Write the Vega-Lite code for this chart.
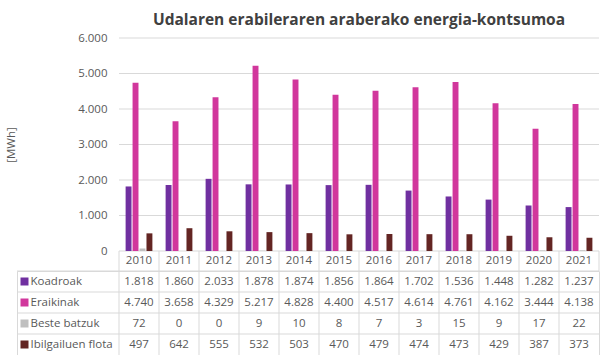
{
  "$schema": "https://vega.github.io/schema/vega-lite/v6.json",
  "padding": {"left": 5, "top": 12, "right": 3, "bottom": 0},
  "autosize": {"type": "pad"},
  "config": {
    "locale": {"number": {"decimal": ",", "thousands": ".", "grouping": [3], "currency": ["", " €"]}},
    "view": {"stroke": null},
    "font": "Open Sans",
    "axis": {"labelFont": "Open Sans", "labelFontSize": 11.5, "labelColor": "#595959", "titleFont": "Open Sans", "titleFontWeight": "normal", "titleColor": "#595959", "titleFontSize": 11.5}
  },
  "datasets": {
    "energy": [
      {"year": "2010", "series": "Koadroak", "value": 1818},
      {"year": "2011", "series": "Koadroak", "value": 1860},
      {"year": "2012", "series": "Koadroak", "value": 2033},
      {"year": "2013", "series": "Koadroak", "value": 1878},
      {"year": "2014", "series": "Koadroak", "value": 1874},
      {"year": "2015", "series": "Koadroak", "value": 1856},
      {"year": "2016", "series": "Koadroak", "value": 1864},
      {"year": "2017", "series": "Koadroak", "value": 1702},
      {"year": "2018", "series": "Koadroak", "value": 1536},
      {"year": "2019", "series": "Koadroak", "value": 1448},
      {"year": "2020", "series": "Koadroak", "value": 1282},
      {"year": "2021", "series": "Koadroak", "value": 1237},
      {"year": "2010", "series": "Eraikinak", "value": 4740},
      {"year": "2011", "series": "Eraikinak", "value": 3658},
      {"year": "2012", "series": "Eraikinak", "value": 4329},
      {"year": "2013", "series": "Eraikinak", "value": 5217},
      {"year": "2014", "series": "Eraikinak", "value": 4828},
      {"year": "2015", "series": "Eraikinak", "value": 4400},
      {"year": "2016", "series": "Eraikinak", "value": 4517},
      {"year": "2017", "series": "Eraikinak", "value": 4614},
      {"year": "2018", "series": "Eraikinak", "value": 4761},
      {"year": "2019", "series": "Eraikinak", "value": 4162},
      {"year": "2020", "series": "Eraikinak", "value": 3444},
      {"year": "2021", "series": "Eraikinak", "value": 4138},
      {"year": "2010", "series": "Beste batzuk", "value": 72},
      {"year": "2011", "series": "Beste batzuk", "value": 0},
      {"year": "2012", "series": "Beste batzuk", "value": 0},
      {"year": "2013", "series": "Beste batzuk", "value": 9},
      {"year": "2014", "series": "Beste batzuk", "value": 10},
      {"year": "2015", "series": "Beste batzuk", "value": 8},
      {"year": "2016", "series": "Beste batzuk", "value": 7},
      {"year": "2017", "series": "Beste batzuk", "value": 3},
      {"year": "2018", "series": "Beste batzuk", "value": 15},
      {"year": "2019", "series": "Beste batzuk", "value": 9},
      {"year": "2020", "series": "Beste batzuk", "value": 17},
      {"year": "2021", "series": "Beste batzuk", "value": 22},
      {"year": "2010", "series": "Ibilgailuen flota", "value": 497},
      {"year": "2011", "series": "Ibilgailuen flota", "value": 642},
      {"year": "2012", "series": "Ibilgailuen flota", "value": 555},
      {"year": "2013", "series": "Ibilgailuen flota", "value": 532},
      {"year": "2014", "series": "Ibilgailuen flota", "value": 503},
      {"year": "2015", "series": "Ibilgailuen flota", "value": 470},
      {"year": "2016", "series": "Ibilgailuen flota", "value": 479},
      {"year": "2017", "series": "Ibilgailuen flota", "value": 474},
      {"year": "2018", "series": "Ibilgailuen flota", "value": 473},
      {"year": "2019", "series": "Ibilgailuen flota", "value": 429},
      {"year": "2020", "series": "Ibilgailuen flota", "value": 387},
      {"year": "2021", "series": "Ibilgailuen flota", "value": 373}
    ],
    "series": [
      {"series": "Koadroak"},
      {"series": "Eraikinak"},
      {"series": "Beste batzuk"},
      {"series": "Ibilgailuen flota"}
    ],
    "years": [
      {"year": "2010"}, {"year": "2011"}, {"year": "2012"}, {"year": "2013"}, {"year": "2014"}, {"year": "2015"},
      {"year": "2016"}, {"year": "2017"}, {"year": "2018"}, {"year": "2019"}, {"year": "2020"}, {"year": "2021"}
    ],
    "gridValues": [
      {"v": 0}, {"v": 1000}, {"v": 2000}, {"v": 3000}, {"v": 4000}, {"v": 5000}, {"v": 6000}
    ]
  },
  "spacing": 0,
  "bounds": "flush",
  "resolve": {"scale": {"x": "independent", "y": "independent", "color": "independent"}},
  "vconcat": [
    {
      "width": 582,
      "height": 213,
      "title": {"text": "Udalaren erabileraren araberako energia-kontsumoa", "font": "Open Sans", "fontSize": 15.5, "fontWeight": "bold", "color": "#404040", "anchor": "middle", "dx": 51, "offset": 4},
      "layer": [
        {
          "data": {"name": "gridValues"},
          "mark": {"type": "rule", "color": "#d9d9d9", "strokeWidth": 1},
          "encoding": {
            "x": {"datum": "2010", "type": "ordinal", "bandPosition": 0,
                  "scale": {"type": "band", "domain": ["_", "2010","2011","2012","2013","2014","2015","2016","2017","2018","2019","2020","2021"], "paddingInner": 0, "paddingOuter": 0.775, "align": 1},
                  "axis": null},
            "x2": {"value": "width"},
            "y": {"field": "v", "type": "quantitative", "scale": {"domain": [0, 6000]},
                  "axis": {"title": "[MWh]", "offset": -102, "grid": false, "ticks": false, "domain": false, "values": [0,1000,2000,3000,4000,5000,6000], "format": ",d", "labelPadding": 12, "titlePadding": 61}}
          }
        },
        {
          "data": {"name": "energy"},
          "mark": {"type": "bar"},
          "encoding": {
            "x": {"field": "year", "type": "ordinal",
                  "scale": {"type": "band", "domain": ["_", "2010","2011","2012","2013","2014","2015","2016","2017","2018","2019","2020","2021"], "paddingInner": 0, "paddingOuter": 0.775, "align": 1},
                  "axis": null},
            "xOffset": {"field": "series", "type": "nominal", "sort": ["Koadroak", "Eraikinak", "Beste batzuk", "Ibilgailuen flota"], "scale": {"domain": ["Koadroak", "Eraikinak", "Beste batzuk", "Ibilgailuen flota"], "paddingInner": 0.15, "paddingOuter": 0.95}},
            "y": {"field": "value", "type": "quantitative", "scale": {"domain": [0, 6000]},
                  "axis": {"title": "[MWh]", "offset": -102, "grid": false, "ticks": false, "domain": false, "values": [0,1000,2000,3000,4000,5000,6000], "format": ",d", "labelPadding": 12, "titlePadding": 61}},
            "color": {"field": "series", "type": "nominal", "scale": {"domain": ["Koadroak", "Eraikinak", "Beste batzuk", "Ibilgailuen flota"], "range": ["#7030a0", "#d1379c", "#bfbfbf", "#632523"]}, "legend": null}
          }
        }
      ]
    },
    {
      "width": 582,
      "height": 20,
      "layer": [
        {
          "data": {"name": "years"},
          "mark": {"type": "rule", "color": "#d9d9d9", "strokeWidth": 1},
          "encoding": {
            "x": {"field": "year", "type": "ordinal", "bandPosition": 0,
                  "scale": {"type": "band", "domain": ["_", "2010","2011","2012","2013","2014","2015","2016","2017","2018","2019","2020","2021"], "paddingInner": 0, "paddingOuter": 0.775, "align": 1},
                  "axis": null}
          }
        },
        {
          "data": {"values": [{"edge": "right"}]},
          "mark": {"type": "rule", "color": "#d9d9d9", "strokeWidth": 1},
          "encoding": {
            "x": {"datum": "2021", "type": "ordinal", "bandPosition": 1,
                  "scale": {"type": "band", "domain": ["_", "2010","2011","2012","2013","2014","2015","2016","2017","2018","2019","2020","2021"], "paddingInner": 0, "paddingOuter": 0.775, "align": 1},
                  "axis": null}
          }
        },
        {
          "data": {"name": "years"},
          "mark": {"type": "text", "font": "Open Sans", "fontSize": 11.5, "color": "#595959", "baseline": "middle"},
          "encoding": {
            "x": {"field": "year", "type": "ordinal",
                  "scale": {"type": "band", "domain": ["_", "2010","2011","2012","2013","2014","2015","2016","2017","2018","2019","2020","2021"], "paddingInner": 0, "paddingOuter": 0.775, "align": 1},
                  "axis": null},
            "text": {"field": "year", "type": "nominal"}
          }
        }
      ]
    },
    {
      "width": 582,
      "height": 84,
      "view": {"stroke": "#d9d9d9"},
      "layer": [
        {
          "data": {"name": "series"},
          "mark": {"type": "rule", "color": "#d9d9d9", "strokeWidth": 1},
          "encoding": {
            "y": {"field": "series", "type": "nominal", "bandPosition": 0,
                  "scale": {"type": "band", "domain": ["Koadroak", "Eraikinak", "Beste batzuk", "Ibilgailuen flota"], "paddingInner": 0, "paddingOuter": 0},
                  "axis": {"title": null, "offset": -11, "domain": false, "ticks": true, "tickSize": 8, "tickWidth": 8,
                           "tickColor": {"condition": [{"test": "datum.value === 'Koadroak'", "value": "#7030a0"}, {"test": "datum.value === 'Eraikinak'", "value": "#d1379c"}, {"test": "datum.value === 'Beste batzuk'", "value": "#bfbfbf"}], "value": "#632523"},
                           "labelAlign": "left", "labelPadding": -10, "labelOverlap": false, "grid": false}}
          }
        },
        {
          "data": {"name": "years"},
          "mark": {"type": "rule", "color": "#d9d9d9", "strokeWidth": 1},
          "encoding": {
            "x": {"field": "year", "type": "ordinal", "bandPosition": 0,
                  "scale": {"type": "band", "domain": ["_", "2010","2011","2012","2013","2014","2015","2016","2017","2018","2019","2020","2021"], "paddingInner": 0, "paddingOuter": 0.775, "align": 1},
                  "axis": null}
          }
        },
        {
          "data": {"name": "energy"},
          "mark": {"type": "text", "font": "Open Sans", "fontSize": 11.5, "color": "#595959"},
          "encoding": {
            "x": {"field": "year", "type": "ordinal",
                  "scale": {"type": "band", "domain": ["_", "2010","2011","2012","2013","2014","2015","2016","2017","2018","2019","2020","2021"], "paddingInner": 0, "paddingOuter": 0.775, "align": 1},
                  "axis": null},
            "y": {"field": "series", "type": "nominal",
                  "scale": {"type": "band", "domain": ["Koadroak", "Eraikinak", "Beste batzuk", "Ibilgailuen flota"], "paddingInner": 0, "paddingOuter": 0},
                  "axis": {"title": null, "offset": -11, "domain": false, "ticks": true, "tickSize": 8, "tickWidth": 8,
                           "tickColor": {"condition": [{"test": "datum.value === 'Koadroak'", "value": "#7030a0"}, {"test": "datum.value === 'Eraikinak'", "value": "#d1379c"}, {"test": "datum.value === 'Beste batzuk'", "value": "#bfbfbf"}], "value": "#632523"},
                           "labelAlign": "left", "labelPadding": -10, "labelOverlap": false, "grid": false}},
            "text": {"field": "value", "type": "quantitative", "format": ",d"}
          }
        }
      ]
    }
  ]
}
